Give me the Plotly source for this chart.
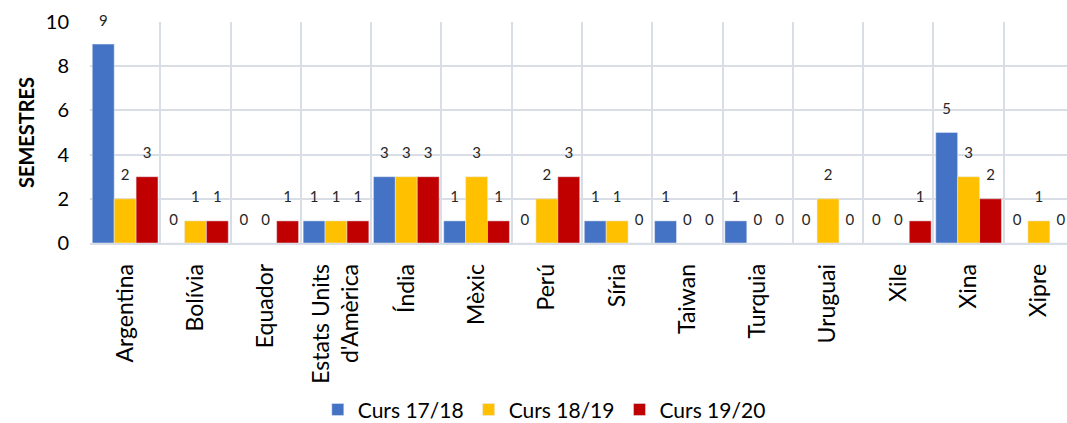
import plotly.graph_objects as go

countries = ["Argentina", "Bolívia", "Equador", "Estats Units<br>d'Amèrica", "Índia", "Mèxic",
             "Perú", "Síria", "Taiwan", "Turquia", "Uruguai", "Xile", "Xina", "Xipre"]
curs_17_18 = [9, 0, 0, 1, 3, 1, 0, 1, 1, 1, 0, 0, 5, 0]
curs_18_19 = [2, 1, 0, 1, 3, 3, 2, 1, 0, 0, 2, 0, 3, 1]
curs_19_20 = [3, 1, 1, 1, 3, 1, 3, 0, 0, 0, 0, 1, 2, 0]
series_names = ["Curs 17/18", "Curs 18/19", "Curs 19/20"]
colors = ["#4472C4", "#FFC000", "#C00000"]

FONT = "Lato, Open Sans, sans-serif"
fig = go.Figure()
for name, vals, col in zip(series_names, [curs_17_18, curs_18_19, curs_19_20], colors):
    fig.add_trace(go.Bar(
        x=countries, y=vals, name=name, marker_color=col,
        offsetgroup=name, alignmentgroup="a",
    ))
for name, vals, col in zip(series_names, [curs_17_18, curs_18_19, curs_19_20], colors):
    fig.add_trace(go.Scatter(
        x=countries, y=vals, mode="markers+text", showlegend=False,
        offsetgroup=name, alignmentgroup="a",
        marker=dict(size=22, opacity=0, color=col),
        text=[str(v) for v in vals], textposition="top center",
        textfont=dict(size=15, color="#262626", family=FONT),
        cliponaxis=False, hoverinfo="skip",
    ))

# figure is a bit taller than the window so the legend can sit near the bottom edge
fig.update_layout(
    width=1067, height=445,
    margin=dict(l=90, r=0, t=22, b=202),
    paper_bgcolor="white", plot_bgcolor="white",
    barmode="group", bargap=0.065, bargroupgap=0,
    scattermode="group", scattergap=0.065,
    font=dict(family=FONT, color="#000000"),
    showlegend=True,
    legend=dict(orientation="h", x=0.465, xanchor="center", y=-0.755, yanchor="middle",
                font=dict(size=21, family=FONT), traceorder="normal"),
)
fig.update_xaxes(
    type="category", range=[-0.5, 13.4], tickangle=-90, automargin=False,
    tickson="boundaries", showgrid=True, gridcolor="#D9DEE6", gridwidth=1.5,
    ticks="", tickfont=dict(size=23, family=FONT, color="#000"), ticklabelstandoff=10,
    showline=True, linecolor="#D9DEE6", linewidth=1.5,
)
fig.update_yaxes(
    range=[0, 10], dtick=2, showgrid=True, gridcolor="#D9DEE6", gridwidth=1.5,
    tickfont=dict(size=20, family=FONT, color="#000"), ticks="", automargin=False,
    ticklabelstandoff=20,
    title=dict(text="<b>SEMESTRES</b>", font=dict(size=20, family=FONT, color="#000"), standoff=5),
    zeroline=False,
)
fig.write_html("out.html", config={"displayModeBar": False},
               post_script="document.body.style.margin='0';document.body.style.overflow='hidden';"
                           "document.documentElement.style.overflow='hidden';")
